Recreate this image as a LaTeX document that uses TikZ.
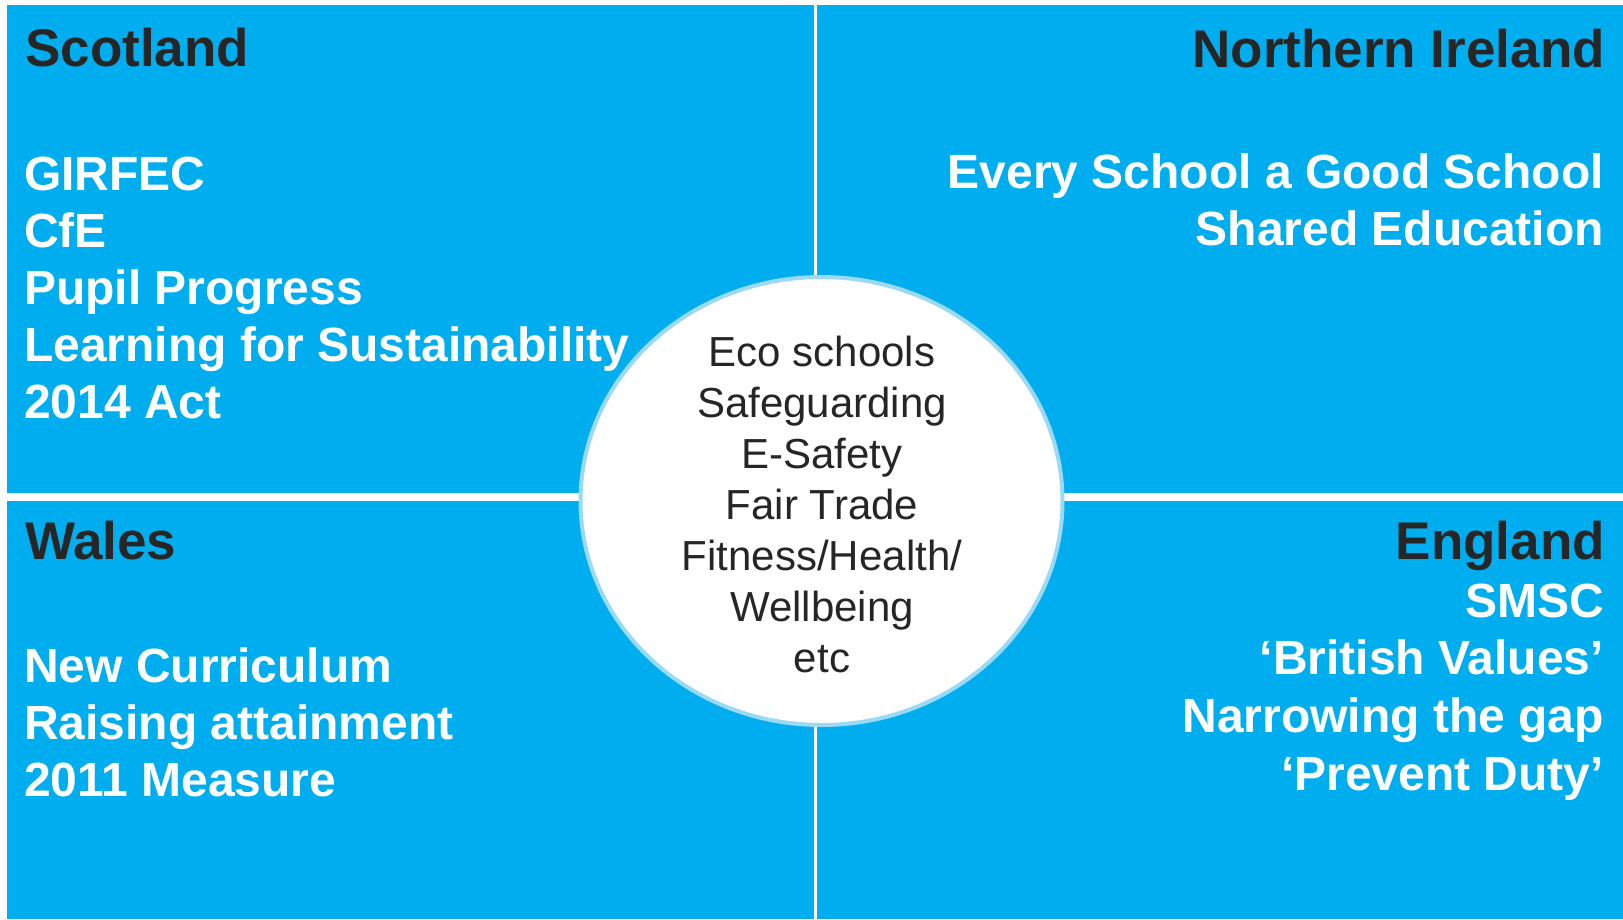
\documentclass[tikz,border=0pt]{standalone}
\usepackage{fontspec}
\setmainfont{Liberation Sans}
\usetikzlibrary{shapes.geometric}
\definecolor{panelblue}{HTML}{00AEEF}
\definecolor{rimblue}{HTML}{9BD9F5}
\definecolor{darktext}{HTML}{262626}
\tikzset{
  panel/.style={fill=panelblue, draw=none},
  heading/.style={inner sep=0pt, text=darktext, font=\bfseries\fontsize{53}{60}\selectfont},
  item/.style={inner sep=0pt, text=white, font=\bfseries\fontsize{48}{57}\selectfont},
  hubtext/.style={inner sep=0pt, text=darktext, font=\fontsize{42}{51}\selectfont, anchor=base},
  hubshape/.style={ellipse, fill=white, draw=rimblue, line width=4pt, inner sep=0pt}
}
\begin{document}
\begin{tikzpicture}[x=1pt, y=-1pt]
\useasboundingbox (0,0) rectangle (1623,919);
\fill[white] (0,0) rectangle (1623,919);
% panels
\path[panel] (7,5) rectangle (814,493);
\path[panel] (817,5) rectangle (1623,493);
\path[panel] (7,501) rectangle (814,919);
\path[panel] (817,501) rectangle (1623,919);
% Scotland
\node[heading, anchor=base west] (scot) at (25,66) {Scotland};
\node[item, anchor=base west] (s1) at (24,190) {GIRFEC};
\node[item, anchor=base west] (s2) at (24,247) {CfE};
\node[item, anchor=base west] (s3) at (24,304) {Pupil Progress};
\node[item, anchor=base west] (s4) at (24,361) {Learning for Sustainability};
\node[item, anchor=base west] (s5) at (24,418) {2014 Act};
% Northern Ireland
\node[heading, anchor=base east] (ni) at (1605,67) {Northern Ireland};
\node[item, anchor=base east] (n1) at (1604,188) {Every School a Good School};
\node[item, anchor=base east] (n2) at (1604,245) {Shared Education};
% Wales
\node[heading, anchor=base west] (wal) at (25,559) {Wales};
\node[item, anchor=base west] (w1) at (24,682) {New Curriculum};
\node[item, anchor=base west] (w2) at (24,739) {Raising attainment};
\node[item, anchor=base west] (w3) at (24,796) {2011 Measure};
% England
\node[heading, anchor=base east] (eng) at (1605,559) {England};
\node[item, anchor=base east] (e1) at (1604,617) {SMSC};
\node[item, anchor=base east] (e2) at (1604,674) {‘British Values’};
\node[item, anchor=base east] (e3) at (1604,732) {Narrowing the gap};
\node[item, anchor=base east] (e4) at (1604,790) {‘Prevent Duty’};
% centre
\node[hubshape, minimum width=482pt, minimum height=448pt] (hub) at (821.5,501) {};
\node[hubtext] (c1) at (822,366) {Eco schools};
\node[hubtext] (c2) at (822,417) {Safeguarding};
\node[hubtext] (c3) at (822,468) {E-Safety};
\node[hubtext] (c4) at (822,519) {Fair Trade};
\node[hubtext] (c5) at (822,570) {Fitness/Health/};
\node[hubtext] (c6) at (822,621) {Wellbeing};
\node[hubtext] (c7) at (822,672) {etc};
\end{tikzpicture}
\end{document}
